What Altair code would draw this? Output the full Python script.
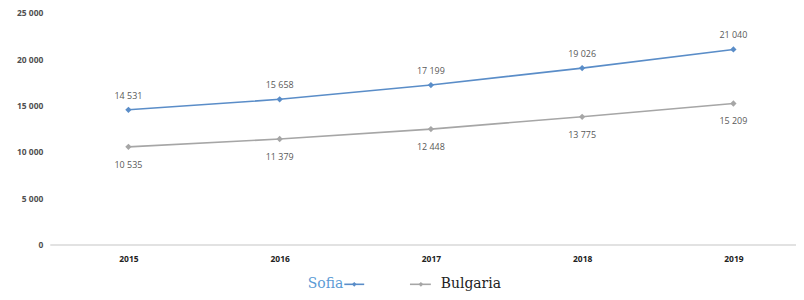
import altair as alt
import pandas as pd

years = [2015, 2016, 2017, 2018, 2019]
sofia = [14531, 15658, 17199, 19026, 21040]
bulgaria = [10535, 11379, 12448, 13775, 15209]
series_names = ["Sofia", "Bulgaria"]
y_ticks = [0, 5000, 10000, 15000, 20000, 25000]

BLUE = "#5a8dc8"
GRAY = "#a6a6a6"
LABEL = "#595959"

rows = []
for y, v in zip(years, sofia):
    rows.append({"year": y, "value": v, "series": "Sofia"})
for y, v in zip(years, bulgaria):
    rows.append({"year": y, "value": v, "series": "Bulgaria"})
df = pd.DataFrame(rows)

base = alt.Chart(df).encode(
    x=alt.X(
        "year:Q",
        scale=alt.Scale(domain=[2014.48, 2019.414], nice=False, zero=False),
        axis=alt.Axis(
            values=years, format="d", title=None, ticks=False, grid=False,
            domainColor="#d9d9d9", domainWidth=1.5, labelFontWeight="bold",
            labelFontSize=8.5, labelColor="#222222", labelPadding=10,
            labelFont="Open Sans",
        ),
    ),
    y=alt.Y(
        "value:Q",
        scale=alt.Scale(domain=[0, 25000], nice=False),
        axis=alt.Axis(
            values=y_ticks, format=",d", title=None, ticks=False, domain=False,
            grid=False, labelPadding=7, labelFontSize=8.5, labelColor="#505050",
            labelFontWeight="bold", labelFont="Open Sans",
        ),
    ),
    color=alt.Color(
        "series:N",
        scale=alt.Scale(domain=series_names, range=[BLUE, GRAY]),
        legend=None,
    ),
)

lines = base.mark_line(strokeWidth=1.6)
points = base.mark_point(shape="diamond", filled=True, size=40, opacity=1)

lab_top = base.transform_filter(alt.datum.series == "Sofia").mark_text(
    dy=-14, fontSize=9, font="Open Sans"
).encode(text=alt.Text("value:Q", format=",d"), color=alt.value(LABEL))
lab_bot = base.transform_filter(alt.datum.series == "Bulgaria").mark_text(
    dy=18, fontSize=9, font="Open Sans"
).encode(text=alt.Text("value:Q", format=",d"), color=alt.value(LABEL))

leg_df = pd.DataFrame({"series": series_names})
LY = 273
sofia_leg = alt.Chart(leg_df).transform_filter(alt.datum.series == "Sofia")
bulg_leg = alt.Chart(leg_df).transform_filter(alt.datum.series == "Bulgaria")

leg_layers = [
    sofia_leg.mark_text(align="right", baseline="middle", fontSize=14, font="DejaVu Serif").encode(
        x=alt.value(295), y=alt.value(LY), text="series:N", color=alt.value("#5b9bd5")),
    sofia_leg.mark_rule(strokeWidth=1.6).encode(
        x=alt.value(296), x2=alt.value(316), y=alt.value(LY), color=alt.value(BLUE)),
    sofia_leg.mark_point(shape="diamond", filled=True, size=22, opacity=1).encode(
        x=alt.value(306), y=alt.value(LY), color=alt.value(BLUE)),
    bulg_leg.mark_rule(strokeWidth=1.6).encode(
        x=alt.value(362), x2=alt.value(383), y=alt.value(LY), color=alt.value(GRAY)),
    bulg_leg.mark_point(shape="diamond", filled=True, size=22, opacity=1).encode(
        x=alt.value(373), y=alt.value(LY), color=alt.value(GRAY)),
    bulg_leg.mark_text(align="left", baseline="middle", fontSize=14, font="DejaVu Serif").encode(
        x=alt.value(393), y=alt.value(LY), text="series:N", color=alt.value("#222222")),
]

chart = alt.layer(lines, points, lab_top, lab_bot, *leg_layers).properties(
    width=750,
    height=233,
    autosize="none",
    padding={"left": 42, "top": 4, "right": 0, "bottom": 47},
).configure(
    locale={"number": {"decimal": ".", "thousands": " ", "grouping": [3], "currency": ["", ""]}}
).configure_view(stroke=None)

chart.save("out.html", embed_options={"renderer": "svg", "actions": False})
